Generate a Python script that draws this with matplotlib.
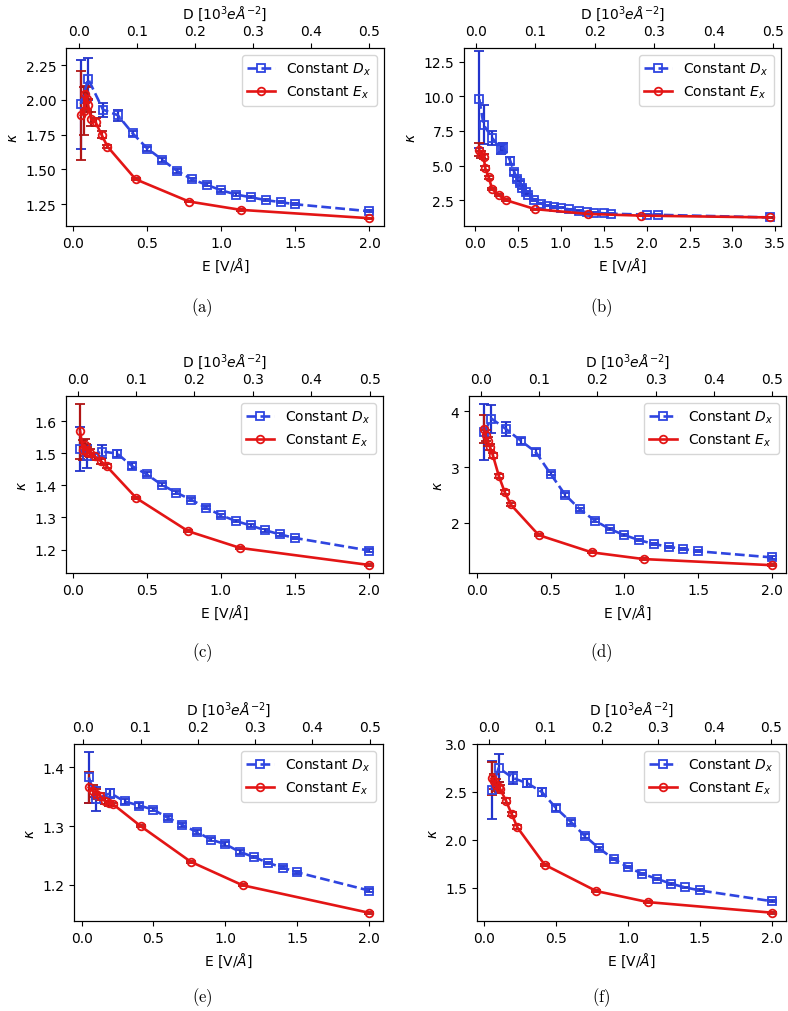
import numpy as np
import matplotlib.pyplot as plt
from matplotlib.ticker import MultipleLocator

plt.rcParams['font.size'] = 10
plt.rcParams['mathtext.fontset'] = 'dejavusans'

# common E grid for the constant-D runs
E_D = [0.05, 0.1, 0.2, 0.3, 0.4, 0.5, 0.6, 0.7, 0.8, 0.9, 1.0, 1.1, 1.2, 1.3, 1.4, 1.5, 2.0]

# (a)
a_kD = [1.97, 2.15, 1.93, 1.89, 1.76, 1.65, 1.57, 1.49, 1.43, 1.39, 1.35, 1.32, 1.30, 1.28, 1.265, 1.25, 1.20]
a_eD = [0.32, 0.15, 0.05, 0.04, 0.02, 0.015, 0.015, 0.012, 0.01, 0.01, 0.01, 0.008, 0.008, 0.008, 0.008, 0.008, 0.008]
a_EE = [0.05, 0.07, 0.08, 0.09, 0.1, 0.12, 0.15, 0.19, 0.23, 0.42, 0.78, 1.13, 2.0]
a_kE = [1.89, 1.92, 2.04, 2.01, 1.96, 1.86, 1.84, 1.75, 1.665, 1.43, 1.27, 1.21, 1.15]
a_eE = [0.32, 0.17, 0.06, 0.08, 0.05, 0.05, 0.03, 0.025, 0.01, 0.008, 0.006, 0.005, 0.005]

# (b)
b_ED = [0.05, 0.1, 0.2, 0.3, 0.33, 0.41, 0.46, 0.49, 0.52, 0.55, 0.59, 0.62, 0.69, 0.77, 0.84,
        0.92, 1.0, 1.1, 1.21, 1.31, 1.39, 1.5, 1.58, 2.01, 2.13, 3.44]
b_kD = [9.8, 7.95, 7.0, 6.2, 6.3, 5.35, 4.5, 4.05, 3.75, 3.4, 3.1, 2.9, 2.5, 2.25, 2.1,
        2.0, 1.95, 1.83, 1.72, 1.63, 1.58, 1.55, 1.52, 1.45, 1.44, 1.25]
b_eD = [3.5, 1.4, 0.5, 0.35, 0.35, 0.25, 0.2, 0.15, 0.12, 0.1, 0.08, 0.06, 0.05, 0.05, 0.04,
        0.04, 0.04, 0.04, 0.04, 0.04, 0.04, 0.04, 0.04, 0.04, 0.04, 0.04]
b_EE = [0.05, 0.07, 0.1, 0.12, 0.16, 0.2, 0.28, 0.36, 0.7, 1.32, 1.94, 3.44]
b_kE = [6.15, 5.8, 5.65, 4.8, 4.15, 3.3, 2.85, 2.5, 1.85, 1.5, 1.38, 1.25]
b_eE = [0.45, 0.25, 0.2, 0.15, 0.12, 0.1, 0.08, 0.05, 0.04, 0.03, 0.03, 0.03]

# (c)
c_kD = [1.513, 1.49, 1.505, 1.499, 1.46, 1.434, 1.402, 1.377, 1.355, 1.33, 1.307, 1.289, 1.275, 1.26, 1.247, 1.236, 1.197]
c_eD = [0.07, 0.035, 0.02, 0.012, 0.008, 0.006, 0.005, 0.005, 0.005, 0.005, 0.005, 0.004, 0.004, 0.004, 0.004, 0.004, 0.004]
c_EE = [0.05, 0.07, 0.08, 0.09, 0.1, 0.12, 0.15, 0.19, 0.23, 0.43, 0.78, 1.13, 2.0]
c_kE = [1.568, 1.51, 1.525, 1.51, 1.505, 1.50, 1.49, 1.475, 1.459, 1.36, 1.257, 1.205, 1.152]
c_eE = [0.085, 0.03, 0.02, 0.02, 0.015, 0.012, 0.01, 0.008, 0.006, 0.004, 0.003, 0.003, 0.003]

# (d)
d_kD = [3.63, 3.87, 3.68, 3.47, 3.27, 2.88, 2.5, 2.24, 2.04, 1.89, 1.78, 1.69, 1.62, 1.57, 1.53, 1.49, 1.38]
d_eD = [0.5, 0.25, 0.12, 0.06, 0.05, 0.03, 0.03, 0.025, 0.02, 0.02, 0.02, 0.02, 0.02, 0.02, 0.02, 0.02, 0.02]
d_EE = [0.05, 0.06, 0.075, 0.09, 0.11, 0.15, 0.19, 0.23, 0.42, 0.78, 1.13, 2.0]
d_kE = [3.69, 3.57, 3.46, 3.36, 3.21, 2.84, 2.55, 2.33, 1.78, 1.47, 1.35, 1.24]
d_eE = [0.25, 0.1, 0.08, 0.06, 0.05, 0.04, 0.035, 0.03, 0.02, 0.02, 0.015, 0.015]

# (e)
e_kD = [1.383, 1.346, 1.356, 1.342, 1.335, 1.328, 1.314, 1.302, 1.29, 1.277, 1.269, 1.256, 1.247, 1.237, 1.229, 1.221, 1.19]
e_eD = [0.043, 0.02, 0.008, 0.005, 0.004, 0.003, 0.003, 0.003, 0.003, 0.003, 0.003, 0.003, 0.002, 0.002, 0.002, 0.002, 0.002]
e_EE = [0.05, 0.08, 0.1, 0.13, 0.16, 0.19, 0.22, 0.41, 0.76, 1.12, 2.0]
e_kE = [1.366, 1.36, 1.355, 1.351, 1.343, 1.339, 1.337, 1.30, 1.239, 1.199, 1.152]
e_eE = [0.026, 0.01, 0.008, 0.006, 0.005, 0.004, 0.003, 0.002, 0.002, 0.002, 0.002]

# (f)
f_kD = [2.52, 2.75, 2.645, 2.59, 2.5, 2.33, 2.19, 2.04, 1.91, 1.80, 1.715, 1.645, 1.594, 1.542, 1.503, 1.472, 1.36]
f_eD = [0.3, 0.15, 0.06, 0.04, 0.04, 0.03, 0.02, 0.02, 0.015, 0.015, 0.012, 0.012, 0.01, 0.01, 0.01, 0.01, 0.01]
f_EE = [0.05, 0.07, 0.08, 0.1, 0.11, 0.15, 0.19, 0.23, 0.42, 0.78, 1.14, 2.0]
f_kE = [2.64, 2.61, 2.57, 2.55, 2.53, 2.41, 2.27, 2.13, 1.74, 1.465, 1.35, 1.24]
f_eE = [0.17, 0.08, 0.06, 0.05, 0.04, 0.03, 0.025, 0.02, 0.01, 0.01, 0.01, 0.01]

panels = [
    ('(a)', E_D, a_kD, a_eD, a_EE, a_kE, a_eE, (1.094, 2.373), (-0.05, 2.098), (-0.023, 0.526), 0.25, (66, 384, 49, 227)),
    ('(b)', b_ED, b_kD, b_eD, b_EE, b_kE, b_eE, (0.63, 13.5), (-0.128, 3.566), (-0.0196, 0.513), 2.5, (464, 781, 49, 227)),
    ('(c)', E_D, c_kD, c_eD, c_EE, c_kE, c_eE, (1.127, 1.678), (-0.045, 2.094), (-0.02, 0.523), 0.1, (66, 383, 397, 574)),
    ('(d)', E_D, d_kD, d_eD, d_EE, d_kE, d_eE, (1.10, 4.275), (-0.052, 2.095), (-0.0206, 0.524), 1.0, (469, 786, 397, 574)),
    ('(e)', E_D, e_kD, e_eD, e_EE, e_kE, e_eE, (1.138, 1.44), (-0.053, 2.097), (-0.0163, 0.5233), 0.1, (74, 383, 745, 922)),
    ('(f)', E_D, f_kD, f_eD, f_EE, f_kE, f_eE, (1.153, 3.0), (-0.051, 2.1), (-0.0206, 0.5265), 0.5, (477, 786, 745, 922)),
]
caption_y = [308, 308, 653, 653, 998, 998]
caption_x = [202, 601, 202, 601, 202, 601]

W, H = 788, 1012
fig = plt.figure(figsize=(W / 100, H / 100), dpi=100)

blue = '#2f45e0'
red = '#e31515'

for i, (cap, ED, kD, eD, EE, kE, eE, ylim, xlim, dlim, ystep, box) in enumerate(panels):
    L, R, T, B = box
    ax = fig.add_axes([L / W, 1 - B / H, (R - L) / W, (B - T) / H])
    c1 = ax.errorbar(ED, kD, yerr=eD, color=blue, ecolor='#2233cc', ls='--', lw=1.9,
                     marker='s', ms=5.5, mfc='none', mew=1.3, capsize=3.5, elinewidth=1.6,
                     label='Constant $D_x$')
    c2 = ax.errorbar(EE, kE, yerr=eE, color=red, ecolor='#b01515', ls='-', lw=1.9,
                     marker='o', ms=5.5, mfc='none', mew=1.3, capsize=3.5, elinewidth=1.6,
                     label='Constant $E_x$')
    ax.set_xlim(*xlim)
    ax.set_ylim(*ylim)
    ax.xaxis.set_major_locator(MultipleLocator(0.5))
    ax.yaxis.set_major_locator(MultipleLocator(ystep))
    ax.set_xlabel(r'E [V/$\AA$]')
    ax.set_ylabel(r'$\kappa$')
    ax.legend([c1.lines[0], c2.lines[0]], ['Constant $D_x$', 'Constant $E_x$'], loc='upper right')
    ax2 = ax.twiny()
    ax2.set_xlim(*dlim)
    ax2.set_xticks([0.0, 0.1, 0.2, 0.3, 0.4, 0.5])
    ax2.set_xlabel(r'D [$10^3 e\AA^{-2}$]')
    fig.text(caption_x[i] / W, 1 - caption_y[i] / H, r'$\mathrm{' + cap + '}$',
             ha='center', va='center', fontsize=12, math_fontfamily='cm')

fig.savefig('out.png', dpi=100)
